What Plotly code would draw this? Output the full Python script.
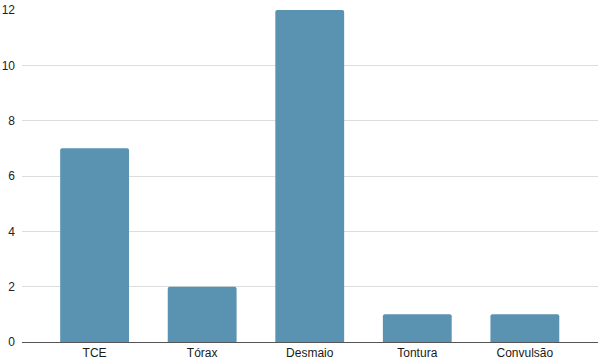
import plotly.graph_objects as go

categories = ["TCE", "Tórax", "Desmaio", "Tontura", "Convulsão"]
values = [7, 2, 12, 1, 1]
y_ticks = [0, 2, 4, 6, 8, 10, 12]

fig = go.Figure(go.Bar(
    x=categories, y=values,
    marker=dict(color="#5A93B1", line=dict(width=0)),
    width=0.64,
))
fig.update_layout(
    width=600, height=359,
    margin=dict(l=22, r=2, t=10, b=17, autoexpand=False),
    plot_bgcolor="white", paper_bgcolor="white",
    showlegend=False,
    barcornerradius=2,
    font=dict(family="Liberation Sans, Arial, sans-serif", size=12, color="#222222"),
)
fig.update_xaxes(
    range=[-0.675, 4.68], showgrid=False, showline=True, linecolor="#555555", linewidth=1,
    ticks="", tickfont=dict(size=12, color="#1a1a1a"), automargin=False,
    ticklabelstandoff=0,
)
fig.update_yaxes(
    range=[0, 12], tickvals=y_ticks, showgrid=True, gridcolor="#dddddd", gridwidth=1,
    zeroline=False, showline=False, ticks="", tickfont=dict(size=12, color="#222222"),
    ticklabelstandoff=6, automargin=False,
)
fig.write_html("out.html", config={"displayModeBar": False},
               post_script="document.body.style.margin='0';document.body.style.overflow='hidden';")
